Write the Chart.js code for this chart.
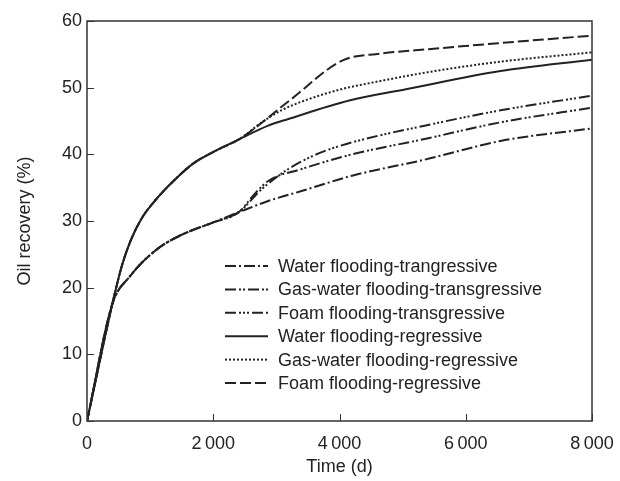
<!DOCTYPE html>
<html>
<head>
<meta charset="utf-8">
<script src="https://cdn.jsdelivr.net/npm/chart.js@4.4.0/dist/chart.umd.min.js"></script>
<style>
  html, body { margin: 0; padding: 0; background: #fff; }
  #wrap { width: 620px; height: 481px; }
</style>
</head>
<body>
<div id="wrap"><canvas id="oilChart" width="620" height="481"></canvas></div>
<script>
// 読み取った値（時間 d / 採収率 %）
const waterTransT = [0, 400, 680, 1100, 1470, 2000, 2400, 2870, 3400, 4200, 5350, 6550, 8000];
const waterTransY = [0, 17.5, 21.7, 25.7, 27.8, 29.8, 31.3, 33.0, 34.5, 36.8, 39.2, 42.0, 43.9];

const gasTransT = [0, 400, 680, 1100, 1470, 2000, 2400, 2650, 2870, 3400, 4200, 5350, 6550, 8000];
const gasTransY = [0, 17.5, 21.7, 25.7, 27.8, 29.8, 31.3, 34.0, 36.0, 37.8, 40.0, 42.3, 44.8, 47.0];

const foamTransT = [0, 400, 680, 1100, 1470, 2000, 2400, 2770, 3190, 3660, 4200, 5350, 6550, 8000];
const foamTransY = [0, 17.5, 21.7, 25.7, 27.8, 29.8, 31.3, 34.8, 37.8, 40.1, 41.8, 44.3, 46.6, 48.8];

const waterRegT = [0, 400, 550, 680, 860, 1100, 1370, 1680, 2050, 2400, 2870, 3190, 4170, 5070, 6550, 8000];
const waterRegY = [0, 17.5, 23.2, 26.8, 30.3, 33.3, 36.0, 38.6, 40.6, 42.2, 44.3, 45.3, 48.1, 49.8, 52.5, 54.2];

const gasRegT = [0, 400, 550, 680, 860, 1100, 1370, 1680, 2050, 2400, 2800, 3100, 3400, 4000, 4650, 5450, 6550, 8000];
const gasRegY = [0, 17.5, 23.2, 26.8, 30.3, 33.3, 36.0, 38.6, 40.6, 42.2, 45.0, 46.7, 47.9, 49.7, 51.0, 52.4, 53.9, 55.3];

const foamRegT = [0, 400, 550, 680, 860, 1100, 1370, 1680, 2050, 2400, 3200, 4050, 4650, 5450, 6550, 8000];
const foamRegY = [0, 17.5, 23.2, 26.8, 30.3, 33.3, 36.0, 38.6, 40.6, 42.2, 48.0, 54.1, 55.1, 55.8, 56.7, 57.8];

const seriesLabels = [
    'Water flooding-trangressive',
    'Gas-water flooding-transgressive',
    'Foam flooding-transgressive',
    'Water flooding-regressive',
    'Gas-water flooding-regressive',
    'Foam flooding-regressive'
];

const xTickValues = [0, 2000, 4000, 6000, 8000];
const xTickLabels = ['0', '2\u2009000', '4\u2009000', '6\u2009000', '8\u2009000'];
const yTickValues = [0, 10, 20, 30, 40, 50, 60];

const INK = '#222';
const FONT = "'Liberation Sans', Arial, sans-serif";

// 線種（凡例と共通）
const dashes = [
    [11, 3, 2, 3],
    [11, 3, 2, 2, 2, 3],
    [11, 3, 2, 2, 2, 2, 2, 3],
    [],
    [2, 2],
    [11, 4]
];

function toPoints(ts, ys) {
    return ts.map((t, i) => ({ x: t, y: ys[i] }));
}

const seriesData = [
    toPoints(waterTransT, waterTransY),
    toPoints(gasTransT, gasTransY),
    toPoints(foamTransT, foamTransY),
    toPoints(waterRegT, waterRegY),
    toPoints(gasRegT, gasRegY),
    toPoints(foamRegT, foamRegY)
];

// 枠線と内向きの目盛り
const framePlugin = {
    id: 'frame',
    afterDraw(chart) {
        const { ctx, chartArea: a, scales } = chart;
        ctx.save();
        ctx.strokeStyle = '#333';
        ctx.lineWidth = 1.5;
        ctx.setLineDash([]);
        ctx.strokeRect(a.left, a.top, a.right - a.left, a.bottom - a.top);
        ctx.lineWidth = 1;
        ctx.beginPath();
        xTickValues.forEach(v => {
            const px = Math.round(scales.x.getPixelForValue(v)) + 0.5;
            ctx.moveTo(px, a.bottom);
            ctx.lineTo(px, a.bottom - 7);
        });
        yTickValues.forEach(v => {
            const py = Math.round(scales.y.getPixelForValue(v)) + 0.5;
            ctx.moveTo(a.left, py);
            ctx.lineTo(a.left + 7, py);
        });
        ctx.stroke();
        ctx.restore();
    }
};

// グラフ内の凡例
const innerLegend = {
    id: 'innerLegend',
    afterDatasetsDraw(chart) {
        const { ctx } = chart;
        ctx.save();
        ctx.font = '18px ' + FONT;
        ctx.textBaseline = 'middle';
        chart.data.datasets.forEach((ds, i) => {
            const y = 266 + i * 23.4;
            ctx.strokeStyle = INK;
            ctx.lineWidth = 2;
            ctx.setLineDash(ds.borderDash);
            ctx.beginPath();
            ctx.moveTo(225, y);
            ctx.lineTo(268, y);
            ctx.stroke();
            ctx.setLineDash([]);
            ctx.fillStyle = INK;
            ctx.fillText(ds.label, 278, y + 1);
        });
        ctx.restore();
    }
};

new Chart(document.getElementById('oilChart'), {
    type: 'line',
    data: {
        datasets: seriesLabels.map((label, i) => ({
            label: label,
            data: seriesData[i],
            borderColor: INK,
            borderWidth: 2,
            borderDash: dashes[i],
            pointRadius: 0,
            fill: false,
            cubicInterpolationMode: 'monotone'
        }))
    },
    options: {
        responsive: false,
        animation: false,
        devicePixelRatio: 1,
        layout: { padding: { top: 21, right: 28, left: 0, bottom: 0 } },
        plugins: {
            legend: { display: false },
            tooltip: { enabled: false }
        },
        scales: {
            x: {
                type: 'linear',
                min: 0, max: 8000,
                afterBuildTicks(s) { s.ticks = xTickValues.map(v => ({ value: v })); },
                afterFit(s) { s.height = 60; s.paddingRight = 0; s.paddingLeft = 0; },
                grid: { display: false, drawTicks: false },
                border: { display: false },
                ticks: {
                    color: INK,
                    font: { family: FONT, size: 18 },
                    padding: 12,
                    maxRotation: 0,
                    callback: (v) => xTickLabels[xTickValues.indexOf(v)]
                },
                title: {
                    display: true, text: 'Time (d)', color: INK,
                    font: { family: FONT, size: 18 }, padding: { top: 0, bottom: 3 }
                }
            },
            y: {
                min: 0, max: 60,
                afterBuildTicks(s) { s.ticks = yTickValues.map(v => ({ value: v })); },
                afterFit(s) { s.width = 87; s.paddingTop = 0; s.paddingBottom = 0; },
                grid: { display: false, drawTicks: false },
                border: { display: false },
                ticks: {
                    color: INK,
                    font: { family: FONT, size: 18 },
                    padding: 5
                },
                title: {
                    display: true, text: 'Oil recovery (%)', color: INK,
                    font: { family: FONT, size: 18 }, padding: { top: 14, bottom: 0 }
                }
            }
        }
    },
    plugins: [framePlugin, innerLegend]
});
</script>
</body>
</html>
